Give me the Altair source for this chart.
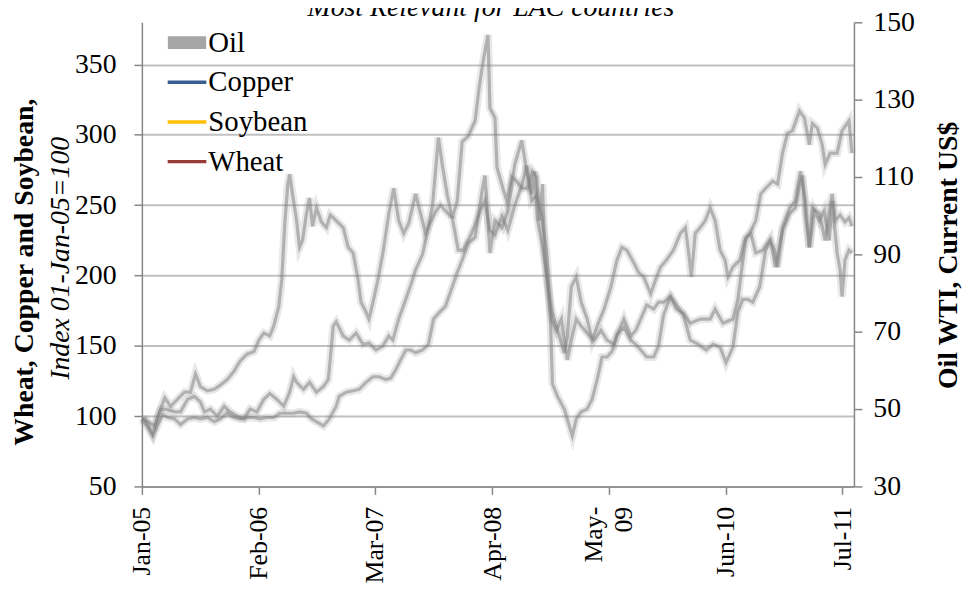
import altair as alt
import numpy as np
import pandas as pd

# ---------------- texts ----------------
chart_title = "Most Relevant for LAC countries"
left_title_bold = "Wheat, Copper and Soybean,"
left_title_italic = "Index 01-Jan-05=100"
right_title = "Oil WTI, Current US$"

# ---------------- legend ----------------
legend_names = ["Oil", "Copper", "Soybean", "Wheat"]
legend_colors = ["#a6a6a6", "#3b5f92", "#ffc000", "#983a36"]
legend_shapes = ["M-0.9,-0.24H0.9V0.24H-0.9Z", "stroke", "stroke", "stroke"]

# ---------------- axes ----------------
left_ticks = [50, 100, 150, 200, 250, 300, 350]
right_ticks = [30, 50, 70, 90, 110, 130, 150]
x_tick_dates = ["2005-01-01", "2006-02-01", "2007-03-01", "2008-04-01",
                "2009-05-01", "2010-06-01", "2011-07-01"]
x_tick_labels = ["Jan-05", "Feb-06", "Mar-07", "Apr-08", "May-09", "Jun-10", "Jul-11"]

# ---------------- series (months since Jan-2005, index 01-Jan-05=100) ----------------
copper_months = [0.0, 0.33, 1.21, 1.77, 2.54, 3.20, 3.97, 4.74, 5.41, 5.96,
                 6.51, 7.28, 8.05, 8.72, 9.49, 10.26, 10.92, 11.69, 12.47, 13.02,
                 13.57, 14.23, 14.67, 15.23, 15.56, 15.89, 16.22, 16.44, 16.77, 17.21,
                 17.54, 17.87, 18.31, 18.65, 18.98, 19.42, 19.97, 20.52, 20.96, 21.62,
                 22.40, 22.95, 23.50, 24.05, 24.38, 24.93, 25.26, 25.71, 26.26, 26.81,
                 27.47, 28.02, 28.57, 29.13, 29.68, 30.45, 31.00, 31.55, 32.11, 32.66,
                 33.21, 33.76, 34.53, 35.19, 35.75, 36.30, 37.07, 37.62, 38.17, 38.72,
                 39.28, 40.05, 40.71, 41.48, 42.26, 42.81, 43.36, 43.91, 44.46, 45.01,
                 45.45, 45.67, 46.23, 46.99, 47.55, 47.88, 48.32, 48.87, 49.53, 50.09,
                 50.64, 51.19, 51.74, 52.30, 52.85, 53.62, 54.39, 54.94, 55.49, 56.16,
                 56.93, 57.48, 58.03, 58.80, 59.47, 60.24, 61.01, 61.90, 62.78, 63.55,
                 64.32, 64.98, 65.75, 66.30, 66.86, 67.41, 67.96, 68.73, 69.39, 69.94,
                 70.50, 71.27, 72.04, 72.70, 73.15, 73.48, 73.81, 74.25, 74.80, 75.35,
                 75.90, 76.46, 76.79, 77.34, 77.67, 77.89, 78.22, 78.66, 78.99]
copper_values = [98, 98, 87, 100, 113, 107, 112, 117, 117, 130,
                 121, 118, 119, 122, 126, 132, 139, 144, 146, 154,
                 159, 157, 164, 178, 197, 236, 264, 272, 257, 239,
                 220, 225, 244, 255, 235, 248, 238, 234, 243, 239,
                 234, 220, 216, 197, 181, 174, 169, 181, 197, 216,
                 244, 262, 239, 230, 237, 258, 244, 230, 238, 245,
                 250, 246, 241, 218, 218, 225, 236, 246, 253, 232,
                 229, 242, 232, 250, 264, 278, 253, 257, 243, 218,
                 169, 123, 114, 105, 93, 86, 98, 103, 105, 112,
                 126, 142, 142, 146, 158, 163, 154, 151, 147, 142,
                 142, 150, 172, 185, 179, 172, 154, 151, 147, 151,
                 149, 138, 149, 174, 183, 183, 181, 192, 218, 225,
                 206, 232, 244, 248, 264, 271, 243, 220, 246, 239,
                 246, 225, 253, 216, 204, 185, 211, 218, 216]

wheat_months = [0.0, 0.66, 1.43, 2.10, 2.54, 3.64, 4.30, 5.08, 5.85, 6.51,
                6.95, 7.61, 8.38, 9.16, 9.82, 10.59, 11.36, 12.03, 12.80, 13.57,
                14.23, 15.00, 15.78, 16.44, 16.88, 17.21, 17.98, 18.65, 19.42, 20.19,
                20.74, 21.29, 21.62, 22.40, 23.06, 23.83, 24.60, 25.26, 26.04, 26.81,
                27.47, 27.91, 28.57, 29.35, 29.90, 30.45, 31.22, 31.77, 32.33, 32.77,
                32.99, 33.43, 33.98, 34.53, 35.08, 35.63, 36.30, 37.07, 37.51, 37.95,
                38.50, 38.72, 39.28, 39.50, 40.16, 40.60, 41.15, 41.70, 42.26, 42.92,
                43.47, 43.91, 44.24, 44.57, 44.79, 45.12, 45.56, 46.11, 46.67, 46.99,
                47.33, 47.77, 48.32, 48.87, 49.53, 50.31, 51.08, 51.74, 52.52, 53.07,
                53.62, 54.39, 54.94, 55.49, 56.16, 56.93, 57.48, 58.03, 58.80, 59.47,
                60.24, 61.01, 62.11, 63.22, 63.77, 64.65, 65.75, 66.30, 66.86, 67.19,
                67.74, 68.29, 69.06, 69.83, 70.39, 70.72, 71.27, 72.04, 72.70, 73.26,
                73.81, 74.25, 74.59, 75.35, 76.01, 76.79, 77.12, 77.67, 78.22, 78.66,
                78.99]
wheat_values = [98, 96, 93, 105, 105, 103, 103, 112, 114, 110,
                103, 105, 100, 107, 103, 100, 98, 105, 103, 112,
                116, 112, 107, 117, 128, 124, 119, 124, 117, 121,
                126, 164, 167, 157, 154, 159, 151, 152, 147, 150,
                157, 154, 169, 183, 193, 204, 215, 231, 250, 282,
                298, 278, 257, 241, 253, 295, 299, 310, 333, 352,
                371, 319, 312, 277, 262, 253, 270, 267, 262, 262,
                274, 270, 239, 265, 216, 192, 169, 161, 169, 154,
                140, 154, 169, 164, 159, 154, 161, 154, 151, 161,
                169, 157, 161, 169, 179, 176, 181, 181, 185, 176,
                173, 166, 169, 169, 176, 166, 169, 183, 211, 227,
                230, 216, 218, 225, 218, 206, 234, 248, 253, 274,
                253, 220, 248, 244, 225, 258, 239, 243, 238, 241,
                235]

soybean_months = [0.0, 0.66, 1.21, 1.77, 2.32, 2.87, 3.64, 4.30, 5.08, 5.85,
                  6.51, 7.28, 8.05, 8.72, 9.49, 10.26, 10.92, 11.69, 12.47, 13.13,
                  13.90, 14.67, 15.34, 16.11, 16.88, 17.54, 18.31, 18.87, 19.42, 20.19,
                  20.85, 21.62, 21.95, 22.73, 23.50, 24.16, 24.93, 25.71, 26.37, 27.14,
                  27.69, 28.24, 28.79, 29.35, 29.90, 30.45, 31.22, 31.88, 32.44, 32.99,
                  33.76, 34.53, 35.08, 35.63, 36.30, 37.07, 37.84, 38.17, 38.72, 39.28,
                  40.05, 40.71, 41.48, 42.26, 42.81, 43.36, 43.69, 44.02, 44.57, 45.01,
                  45.56, 46.23, 46.99, 47.33, 47.77, 48.32, 48.87, 49.53, 50.09, 50.64,
                  51.41, 52.18, 52.85, 53.40, 53.95, 54.72, 55.27, 55.83, 56.60, 57.15,
                  57.70, 58.36, 59.13, 59.91, 60.46, 60.79, 61.12, 61.56, 62.11, 62.67,
                  63.22, 63.77, 64.32, 64.87, 65.20, 65.75, 66.52, 67.08, 67.63, 68.29,
                  68.84, 69.39, 70.17, 70.72, 71.27, 71.82, 72.37, 73.15, 73.70, 74.25,
                  74.59, 75.13, 75.68, 76.01, 76.57, 77.34, 77.89, 78.66, 78.99]
soybean_values = [98, 92, 86, 94, 101, 99, 98, 94, 98, 99,
                  98, 99, 96, 98, 102, 99, 98, 99, 99, 98,
                  99, 99, 102, 102, 102, 103, 102, 98, 96, 93,
                  98, 107, 114, 117, 118, 119, 124, 128, 128, 126,
                  127, 133, 140, 147, 147, 145, 147, 151, 169, 173,
                  178, 192, 202, 211, 223, 227, 260, 271, 216, 239,
                  234, 246, 279, 296, 274, 258, 274, 239, 220, 202,
                  176, 161, 145, 157, 192, 199, 181, 169, 154, 164,
                  176, 192, 211, 220, 218, 209, 202, 199, 187, 197,
                  206, 211, 218, 230, 234, 218, 199, 230, 234, 239,
                  248, 239, 218, 211, 199, 206, 211, 225, 230, 239,
                  258, 262, 267, 265, 287, 301, 303, 317, 312, 293,
                  308, 305, 293, 279, 287, 287, 303, 310, 287]

# ---------------- data frame ----------------
BASE = pd.Timestamp("2005-01-01")
DAYS_PER_MONTH = 30.4375


def to_frame(name, months, values):
    assert len(months) == len(values), name
    dates = BASE + pd.to_timedelta(np.array(months) * DAYS_PER_MONTH, unit="D")
    return pd.DataFrame({"date": dates, "value": values, "series": name})


lines_df = pd.concat([
    to_frame("Copper", copper_months, copper_values),
    to_frame("Soybean", soybean_months, soybean_values),
    to_frame("Wheat", wheat_months, wheat_values),
], ignore_index=True)

FONT = "Liberation Serif"
AXIS_GREY = "#868686"
W, H = 718, 468
NBSP = "\u00a0"


def dt(s):
    y, m, d = (int(p) for p in s.split("-"))
    return alt.DateTime(year=y, month=m, date=d)


def date_test(s):
    yy, mm = int(s[:4]), int(s[5:7])
    return f"(year(datum.value)=={yy} && month(datum.value)=={mm - 1})"


# the long "May-09" label wraps onto two centred lines, as in the original
wrapped = "May-09"
wrapped_date = x_tick_dates[x_tick_labels.index(wrapped)]
label_expr = ""
for d, lab in zip(x_tick_dates, x_tick_labels):
    if lab == wrapped:
        txt = f"['{lab[:4]}', '{lab[4:]}{NBSP * 2}']"
    else:
        txt = f"'{lab}'"
    label_expr += f"{date_test(d)} ? {txt} : "
label_expr += "datum.label"

x_scale = alt.Scale(domain=[dt("2005-01-01"), dt("2011-08-09")], nice=False)
y_scale = alt.Scale(domain=[50, 380], nice=False, zero=False)

x_axis = alt.Axis(values=[dt(d) for d in x_tick_dates], labelExpr=label_expr,
                  labelAngle=270, labelAlign="right", labelBaseline="middle",
                  labelFont=FONT, labelFontSize=26, labelColor="black", labelPadding=12,
                  labelLineHeight=30,
                  labelOffset={"condition": {"test": date_test(wrapped_date), "value": -15},
                               "value": 0},
                  tickSize=8, tickColor=AXIS_GREY, tickWidth=1.5,
                  domainColor=AXIS_GREY, domainWidth=1.5, grid=False, title=None,
                  labelOverlap=False, labelFlush=False)
y_axis = alt.Axis(orient="left", values=left_ticks, grid=True, gridColor="#c0c0c0", gridWidth=2,
                  domainColor=AXIS_GREY, domainWidth=1.5, tickColor=AXIS_GREY, tickWidth=1.5,
                  tickSize=8, labelFont=FONT, labelFontSize=28, labelColor="black",
                  labelPadding=18, title=None)

core = alt.Chart(lines_df).mark_line(strokeWidth=3.2, opacity=0.48, color="#707070").encode(
    x=alt.X("date:T", scale=x_scale, axis=x_axis),
    y=alt.Y("value:Q", scale=y_scale, axis=y_axis),
    detail="series:N",
)
glow = alt.Chart(lines_df).mark_line(strokeWidth=8, opacity=0.2, color="#8c8c8c").encode(
    x=alt.X("date:T", scale=x_scale, axis=x_axis),
    y=alt.Y("value:Q", scale=y_scale, axis=None),
    detail="series:N",
)

right_axis = alt.Chart(pd.DataFrame({"oil": right_ticks})).mark_point(opacity=0).encode(
    y=alt.Y("oil:Q", scale=alt.Scale(domain=[30, 150], nice=False, zero=False),
            axis=alt.Axis(orient="right", values=right_ticks, grid=False,
                          domainColor=AXIS_GREY, domainWidth=1.5, tickColor=AXIS_GREY,
                          tickWidth=1.5, tickSize=8, labelFont=FONT, labelFontSize=28,
                          labelColor="black", labelPadding=11, title=None)),
)

leg = alt.Legend(title=None, orient="none", legendX=24, legendY=-1, padding=0,
                 symbolSize=1521, symbolStrokeWidth=3.5, symbolOpacity=1,
                 labelFont=FONT, labelFontSize=29, labelColor="black", labelOffset=0,
                 rowPadding=3, labelLimit=0)
legend_layer = alt.Chart(pd.DataFrame({"series": legend_names})).mark_point(opacity=0).encode(
    fill=alt.Fill("series:N", sort=legend_names,
                  scale=alt.Scale(domain=legend_names, range=legend_colors), legend=leg),
    stroke=alt.Stroke("series:N", sort=legend_names,
                      scale=alt.Scale(domain=legend_names, range=legend_colors), legend=leg),
    shape=alt.Shape("series:N", sort=legend_names,
                    scale=alt.Scale(domain=legend_names, range=legend_shapes), legend=leg),
)


def text_layer(txt, x, y, angle=0, weight="normal", style="normal", baseline="middle"):
    return alt.Chart(pd.DataFrame({"t": [txt]})).mark_text(
        font=FONT, fontSize=28, fontWeight=weight, fontStyle=style, angle=angle,
        align="center", baseline=baseline, color="black",
    ).encode(text="t:N", x=alt.value(x), y=alt.value(y))


title_t = text_layer(chart_title, 352, -6, style="italic", baseline="alphabetic")
left_bold_t = text_layer(left_title_bold, -118, 252, angle=270, weight="bold")
left_ital_t = text_layer(left_title_italic, -81, 238, angle=270, style="italic")
right_t = text_layer(right_title, 814, 235, angle=270, weight="bold")

chart = alt.layer(
    core, glow, right_axis, legend_layer, title_t, left_bold_t, left_ital_t, right_t
).resolve_scale(y="independent").properties(
    width=W, height=H,
    autosize=alt.AutoSizeParams(type="none"),
    padding={"left": 135, "top": 12, "right": 114, "bottom": 98},
).configure_view(strokeWidth=0)

chart.save("out.html", embed_options={"renderer": "svg", "actions": False})
